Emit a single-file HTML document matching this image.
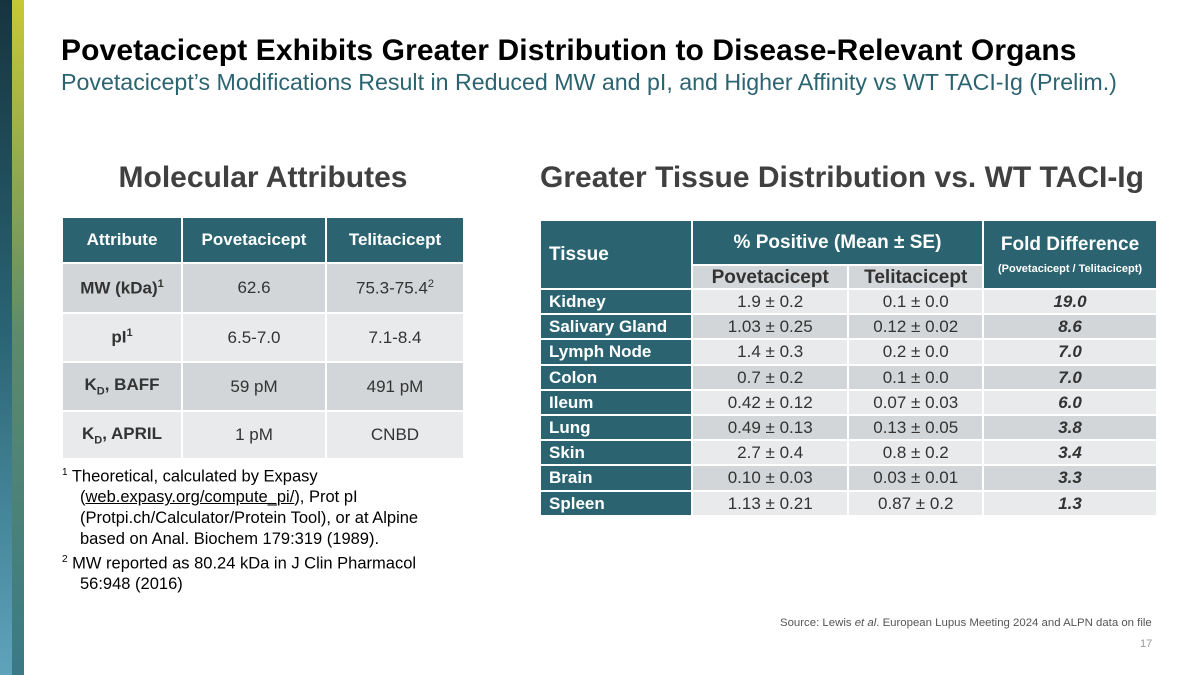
<!DOCTYPE html>
<html><head><meta charset="utf-8"><style>
body{margin:0;width:1200px;height:675px;position:relative;background:#fff;font-family:"Liberation Sans",Arial,sans-serif;overflow:hidden}
.abs{position:absolute}
table{border-collapse:collapse;position:absolute}
td,th{padding:0;text-align:center;border:2px solid #fff}
.lt th{background:#2b6470;color:#fff;font-size:17px;font-weight:bold;height:44px}
.lt td{font-size:17px;color:#333}
.lt tr.o td{background:#d2d6d8}
.lt tr.e td{background:#e8eaeb}
.lt td.b{font-weight:bold}
.rt th{background:#2b6470;color:#fff;font-weight:bold}
.rt tr.r{height:25.2px}
.rt td{font-size:17px;color:#333;line-height:21px}
.rt td.t{background:#2b6470;color:#fff;font-weight:bold;text-align:left;padding-left:8px}
.rt tr.o td:not(.t){background:#d2d6d8}
.rt tr.e td:not(.t){background:#e8eaeb}
.rt td.f{font-weight:bold;font-style:italic}
</style></head><body>
<div class="abs" style="left:0;top:0;width:12px;height:675px;background:linear-gradient(#16343f,#2a6575 50%,#5fa3bb)"></div>
<div class="abs" style="left:12px;top:0;width:12px;height:675px;background:linear-gradient(#c8c834,#5c8a6a 50%,#3a7a86)"></div>
<div class="abs" style="left:61px;top:34px;font-size:30px;font-weight:bold;color:#000;letter-spacing:0.1px">Povetacicept Exhibits Greater Distribution to Disease-Relevant Organs</div>
<div class="abs" style="left:61px;top:69px;font-size:23.2px;color:#2b6470">Povetacicept’s Modifications Result in Reduced MW and pI, and Higher Affinity vs WT TACI-Ig (Prelim.)</div>
<div class="abs" style="left:62px;width:402px;text-align:center;top:161px;font-size:30px;font-weight:bold;color:#404040">Molecular Attributes</div>
<div class="abs" style="left:540px;top:161px;font-size:30px;font-weight:bold;color:#404040">Greater Tissue Distribution vs. WT TACI-Ig</div>

<table class="lt" style="left:61px;top:216px;width:404px">
<tr><th style="width:118px">Attribute</th><th style="width:142px">Povetacicept</th><th>Telitacicept</th></tr>
<tr class="o" style="height:50px"><td class="b">MW (kDa)<sup style="font-size:11px">1</sup></td><td>62.6</td><td>75.3-75.4<sup style="font-size:11px">2</sup></td></tr>
<tr class="e" style="height:49px"><td class="b">pI<sup style="font-size:11px">1</sup></td><td>6.5-7.0</td><td>7.1-8.4</td></tr>
<tr class="o" style="height:49px"><td class="b">K<sub style="font-size:11px">D</sub>, BAFF</td><td>59 pM</td><td>491 pM</td></tr>
<tr class="e" style="height:48px"><td class="b">K<sub style="font-size:11px">D</sub>, APRIL</td><td>1 pM</td><td>CNBD</td></tr>
</table>

<div class="abs" style="left:62px;top:463px;font-size:16.5px;line-height:20.8px;color:#000;width:420px">
<div><sup style="font-size:10px">1</sup> Theoretical, calculated by Expasy</div>
<div style="padding-left:18px">(<u>web.expasy.org/compute_pi/</u>), Prot pI<br>(Protpi.ch/Calculator/Protein Tool), or at Alpine<br>based on Anal. Biochem 179:319 (1989).</div>
<div><sup style="font-size:10px">2</sup> MW reported as 80.24 kDa in J Clin Pharmacol</div>
<div style="padding-left:18px">56:948 (2016)</div>
</div>

<table class="rt" style="left:539px;top:219px;width:619px">
<tr style="height:45px"><th rowspan="2" style="width:143px;text-align:left;padding-left:8px;font-size:19px">Tissue</th><th colspan="2" style="font-size:19px">% Positive (Mean ± SE)</th><th rowspan="2" style="width:173px;font-size:19px;line-height:22px;padding-top:4px">Fold Difference<br><span style="font-size:11px">(Povetacicept / Telitacicept)</span></th></tr>
<tr style="height:24px"><td style="background:#d2d6d8;font-weight:bold;font-size:19px;width:155px">Povetacicept</td><td style="background:#d2d6d8;font-weight:bold;font-size:19px;width:133px">Telitacicept</td></tr>
<tr class="r e"><td class="t">Kidney</td><td>1.9 ± 0.2</td><td>0.1 ± 0.0</td><td class="f">19.0</td></tr>
<tr class="r o"><td class="t">Salivary Gland</td><td>1.03 ± 0.25</td><td>0.12 ± 0.02</td><td class="f">8.6</td></tr>
<tr class="r e"><td class="t">Lymph Node</td><td>1.4 ± 0.3</td><td>0.2 ± 0.0</td><td class="f">7.0</td></tr>
<tr class="r o"><td class="t">Colon</td><td>0.7 ± 0.2</td><td>0.1 ± 0.0</td><td class="f">7.0</td></tr>
<tr class="r e"><td class="t">Ileum</td><td>0.42 ± 0.12</td><td>0.07 ± 0.03</td><td class="f">6.0</td></tr>
<tr class="r o"><td class="t">Lung</td><td>0.49 ± 0.13</td><td>0.13 ± 0.05</td><td class="f">3.8</td></tr>
<tr class="r e"><td class="t">Skin</td><td>2.7 ± 0.4</td><td>0.8 ± 0.2</td><td class="f">3.4</td></tr>
<tr class="r o"><td class="t">Brain</td><td>0.10 ± 0.03</td><td>0.03 ± 0.01</td><td class="f">3.3</td></tr>
<tr class="r e"><td class="t">Spleen</td><td>1.13 ± 0.21</td><td>0.87 ± 0.2</td><td class="f">1.3</td></tr>
</table>

<div class="abs" style="left:780px;top:617px;font-size:11.4px;color:#555">Source: Lewis <i>et al</i>. European Lupus Meeting 2024 and ALPN data on file</div>
<div class="abs" style="left:1140px;top:638px;font-size:11px;color:#999">17</div>
</body></html>
